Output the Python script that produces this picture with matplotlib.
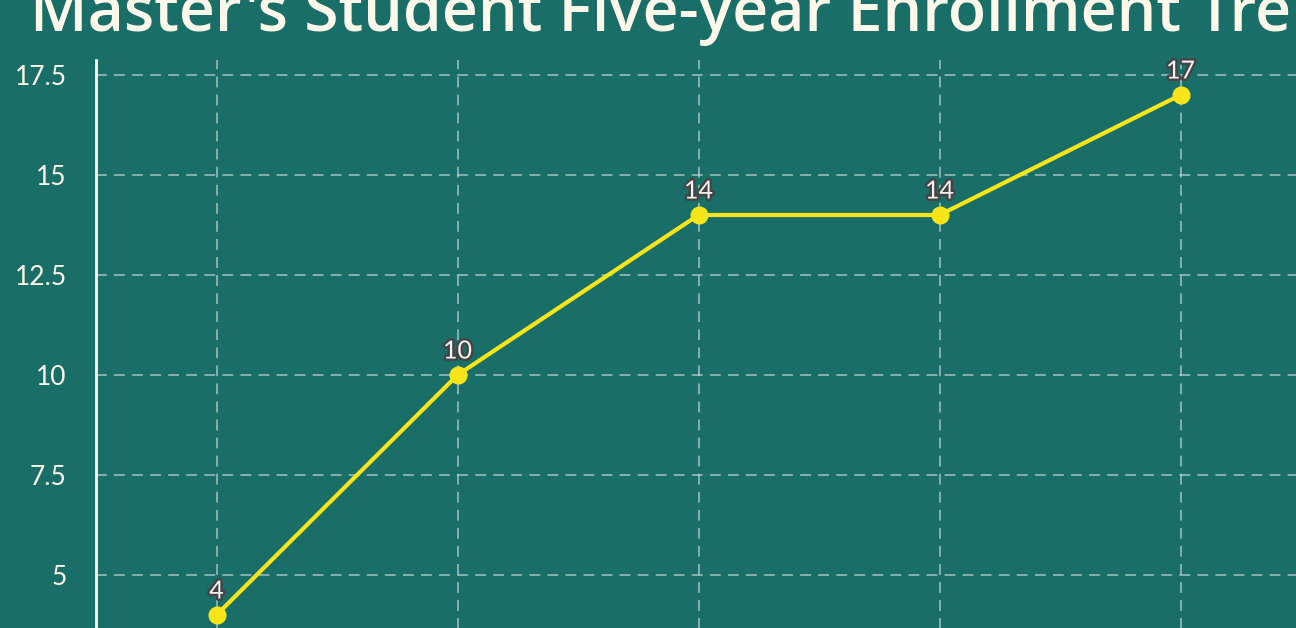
import matplotlib
matplotlib.use("Agg")
import matplotlib.pyplot as plt
import matplotlib.patheffects as pe

years = ["2019", "2020", "2021", "2022", "2023"]
students = [4, 10, 14, 14, 17]
title = "Master's Student Five-year Enrollment Trend"

BG = "#1a6e68"
CREAM = "#fdf8ea"
YELLOW = "#f7e51a"

W, H = 1296, 628
fig = plt.figure(figsize=(W / 100, H / 100), dpi=100, facecolor=BG)

top_px = 60
left_px = 96
ymin, ymax = 3.0, 17.875
px_per_unit = 40.0
height_px = (ymax - ymin) * px_per_unit
xpx_per_cat = 241.0
xmin, xmax = -0.5, len(years) - 0.5
width_px = (xmax - xmin) * xpx_per_cat

ax = fig.add_axes([left_px / W, 1 - (top_px + height_px) / H, width_px / W, height_px / H])
ax.set_facecolor(BG)
x = list(range(len(years)))
ax.plot(x, students, color=YELLOW, lw=3, marker="o", ms=12, mec=YELLOW, mfc=YELLOW, zorder=3)
for xi, v in zip(x, students):
    ax.annotate(str(v), (xi, v), xytext=(0, 9), textcoords="offset points",
                ha="center", va="bottom", fontsize=18, color="#f4f4f4", family="Lato",
                path_effects=[pe.withStroke(linewidth=3.5, foreground="#444444")], zorder=4)

ax.set_xlim(xmin, xmax)
ax.set_ylim(ymin, ymax)
ax.set_xticks(x)
ax.set_xticklabels(years)
ax.set_yticks([5, 7.5, 10, 12.5, 15, 17.5])
ax.set_yticklabels(["5", "7.5", "10", "12.5", "15", "17.5"])
ax.tick_params(axis="both", length=0, colors=CREAM, labelsize=19, pad=21)
for lab in ax.get_yticklabels() + ax.get_xticklabels():
    lab.set_family("Lato")
ax.grid(True, color="#bfd6d3", alpha=0.7, ls=(0, (6, 4)), lw=1.3)
ax.set_axisbelow(True)
for s in ["top", "right", "bottom"]:
    ax.spines[s].set_visible(False)
ax.spines["left"].set_color("white")
ax.spines["left"].set_linewidth(2)

fig.text(30 / W, 1 - 31 / H, title, fontsize=45, fontweight="semibold", color=CREAM,
         family="Open Sans", ha="left", va="baseline")

fig.savefig("out.png", dpi=100, facecolor=BG)
